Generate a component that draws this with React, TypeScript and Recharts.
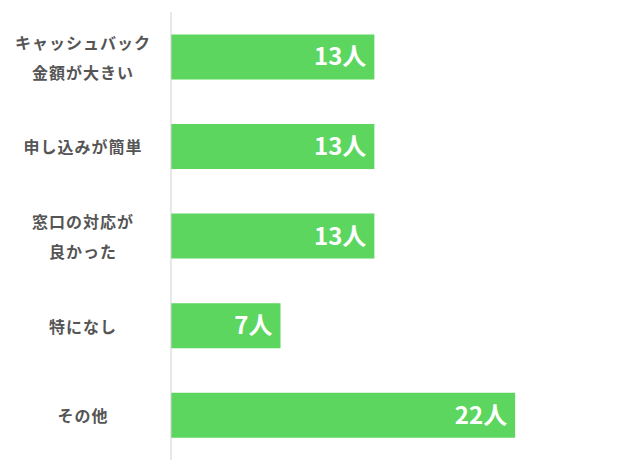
import React from "react";
import { Bar, BarChart, LabelList, XAxis, YAxis } from "recharts";

const categories = [
  "キャッシュバック\n金額が大きい",
  "申し込みが簡単",
  "窓口の対応が\n良かった",
  "特になし",
  "その他",
];
const counts = [13, 13, 13, 7, 22];

const data = categories.map((name, i) => ({ name, value: counts[i] }));

const FONT = '"Noto Sans CJK JP", "Noto Sans", sans-serif';

function CategoryTick({ y, payload }: any) {
  const lines = String(payload.value).split("\n");
  const start = y - ((lines.length - 1) * 30) / 2;
  return (
    <text
      x={83}
      y={start}
      textAnchor="middle"
      dominantBaseline="central"
      fill="#555"
      fontSize={16}
      fontWeight={700}
      letterSpacing={1}
      fontFamily={FONT}
    >
      {lines.map((line, i) => (
        <tspan key={i} x={83} y={start + i * 30}>
          {line}
        </tspan>
      ))}
    </text>
  );
}

export default function App() {
  return (
    <div style={{ position: "absolute", left: 0, top: 0, width: 625, height: 463, background: "#fff" }}>
      <BarChart
        width={625}
        height={463}
        data={data}
        layout="vertical"
        margin={{ top: 12, right: 16, bottom: 3, left: 0 }}
        barCategoryGap="25%"
      >
        <XAxis type="number" domain={[0, 28]} hide />
        <YAxis
          type="category"
          dataKey="name"
          width={171}
          tick={<CategoryTick />}
          tickLine={false}
          axisLine={{ stroke: "#d0d0d0" }}
          interval={0}
        />
        <Bar dataKey="value" fill="#5cd65f" isAnimationActive={false}>
          <LabelList
            dataKey="value"
            position="insideRight"
            offset={8}
            formatter={(v: any) => `${v}人`}
            fill="#fff"
            fontSize={24}
            fontWeight={700}
            fontFamily={FONT}
          />
        </Bar>
      </BarChart>
    </div>
  );
}
